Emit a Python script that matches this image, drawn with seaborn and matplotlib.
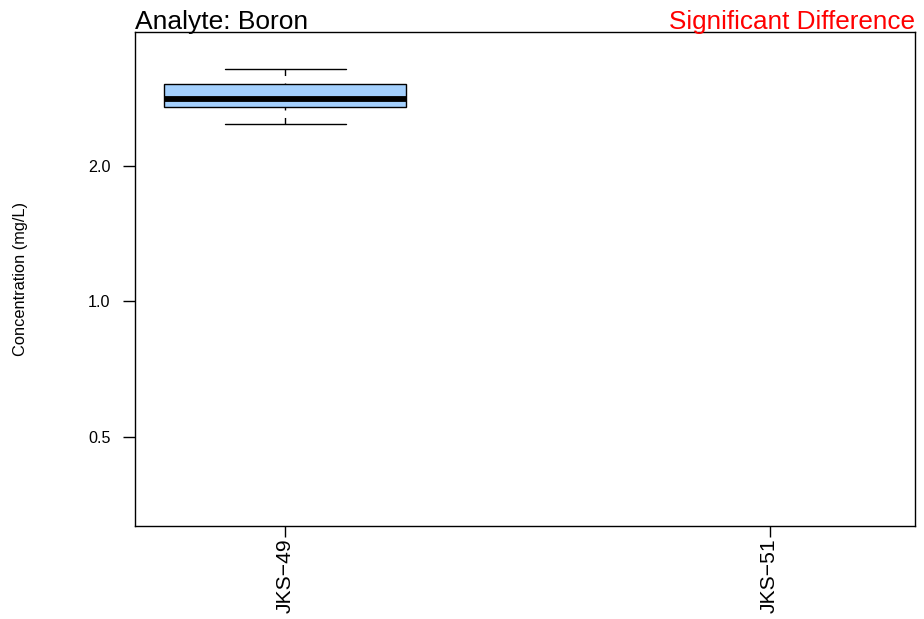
import numpy as np
import pandas as pd
import matplotlib
matplotlib.use("Agg")
import matplotlib.pyplot as plt
import seaborn as sns

# ---- data ----
sites = ["JKS\u221249", "JKS\u221251"]
site_obs = ["JKS\u221249"] * 5
conc_obs = [2.47, 2.70, 2.82, 3.03, 3.28]
ytick_vals = [0.5, 1.0, 2.0]
ytick_labels = ["0.5", "1.0", "2.0"]
title_left = "Analyte: Boron"
title_right = "Significant Difference"
ylabel = "Concentration (mg/L)"

df = pd.DataFrame({"site": site_obs, "conc": conc_obs})

sns.set_style("white")
plt.rcParams["font.family"] = ["Liberation Sans", "DejaVu Sans"]
plt.rcParams["text.color"] = "black"
plt.rcParams["axes.labelcolor"] = "black"
plt.rcParams["xtick.color"] = "black"
plt.rcParams["ytick.color"] = "black"

fig = plt.figure(figsize=(9.24, 6.19), dpi=100)
ax = fig.add_axes([135 / 924, 93 / 619, 780 / 924, 494 / 619])

sns.boxplot(
    data=df, x="site", y="conc", order=sites, ax=ax,
    log_scale=True, width=0.5, color="#a4d0fd", saturation=1,
    linecolor="black", linewidth=1.0, fliersize=0,
    medianprops=dict(linewidth=4.2, color="black"),
    whiskerprops=dict(linestyle=(0, (4.7, 5.4)), color="black", linewidth=1.0),
    capprops=dict(color="black", linewidth=1.0),
)

# draw whisker dashes starting from the cap end (as in the reference)
for ln in ax.lines:
    if ln.get_linestyle() == "--":
        xd, yd = ln.get_xdata(), ln.get_ydata()
        ln.set_data(list(xd)[::-1], list(yd)[::-1])

ax.set_xlim(-0.31, 1.30)
ax.set_ylim(0.3167, 3.963)
ax.yaxis.set_minor_locator(matplotlib.ticker.NullLocator())
ax.set_yticks(ytick_vals)
ax.set_yticklabels(ytick_labels, fontsize=11.6)
ax.set_xticks(range(len(sites)))
ax.set_xticklabels(sites, rotation=90, fontsize=15.2)

ax.tick_params(axis="y", direction="out", length=8.5, width=1.0, color="black",
               labelcolor="black", pad=9, left=True)
ax.tick_params(axis="x", direction="out", length=8.0, width=1.0, color="black",
               labelcolor="black", pad=1, bottom=True)

for s in ax.spines.values():
    s.set_visible(True)
    s.set_color("black")
    s.set_linewidth(1.0)

ax.set_xlabel("")
ax.set_ylabel(ylabel, fontsize=11.8, color="black")
ax.yaxis.set_label_coords(-0.137, 0.5)

ax.set_title(title_left, loc="left", fontsize=19, pad=2, color="black")
ax.set_title(title_right, loc="right", fontsize=18.8, pad=2, color="red")

fig.savefig("out.png", dpi=100)
